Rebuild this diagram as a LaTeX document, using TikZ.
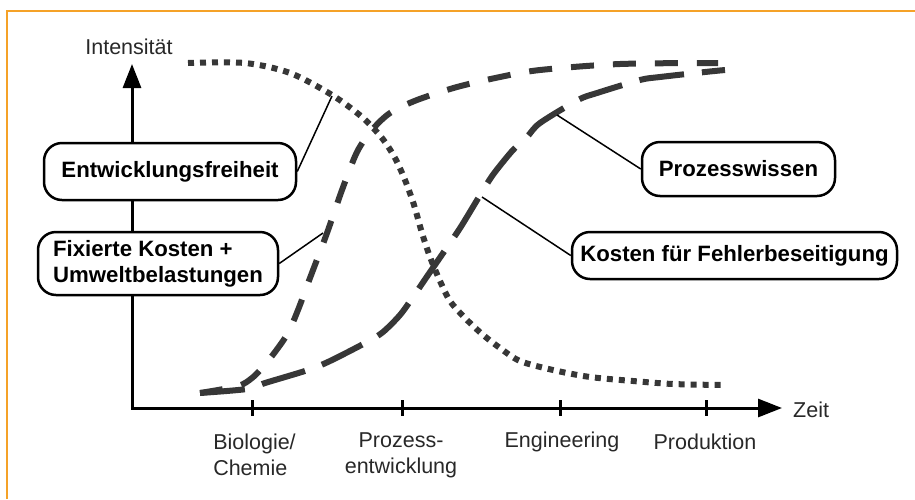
\documentclass[tikz,border=0pt]{standalone}
\usepackage{fontspec}
\setmainfont{Liberation Sans}
\usetikzlibrary{arrows.meta}
\definecolor{frameorange}{RGB}{245,162,40}
\definecolor{curvegray}{RGB}{55,55,55}
\definecolor{labelgray}{RGB}{40,40,40}
\begin{document}
\begin{tikzpicture}[x=1pt,y=-1pt,
  lbl/.style={font=\fontsize{21.5}{26}\selectfont, text=labelgray, inner sep=0pt},
  box/.style={draw=black, line width=2.5pt, fill=white, rounded corners=18pt,
    font=\fontsize{22.2}{26}\selectfont\bfseries, inner sep=0pt, align=center},
  axisline/.style={line width=3pt, black},
  tickmark/.style={line width=3pt, black},
  dotcurve/.style={line width=6pt, curvegray, dash pattern=on 6pt off 6pt},
  shortdash/.style={line width=6pt, curvegray, dash pattern=on 23pt off 19pt},
  longdash/.style={line width=6pt, curvegray, dash pattern=on 45pt off 18pt},
  link/.style={line width=1.5pt, black}]

\useasboundingbox (0,0) rectangle (915,499);
\draw[line width=1.5pt, frameorange] (7,499) -- (7,11) -- (915,11);

% axes
\coordinate (ytop) at (132,64);
\coordinate (origin) at (132,408);
\coordinate (xend) at (782,408);
\draw[axisline, {Triangle[length=24pt,width=18pt]}-{Triangle[length=24pt,width=18pt]}]
  (ytop) -- (origin) -- (xend);
\foreach \tx in {252,402,560,706}{
  \draw[tickmark] (\tx,400) -- (\tx,416);
}

% axis labels
\node[lbl] (yl) at (129,47) {Intensität};
\node[lbl, anchor=west] (xl) at (793,410) {Zeit};
\node[lbl, align=left] (t1) at (254.5,455) {Biologie/\\Chemie};
\node[lbl, align=center] (t2) at (401,455) {Prozess-\\entwicklung};
\node[lbl] (t3) at (562,442) {Engineering};
\node[lbl] (t4) at (705,442) {Produktion};

% curves
\draw[dotcurve] plot[smooth, tension=0.5] coordinates {
  (188,63) (245,63) (290,73) (332,95) (362,117) (382,138) (395,158) (405,180)
  (414,205) (422,233) (430,257) (440,281) (450,301) (465,318) (482,334)
  (500,348) (520,361) (553,370) (590,377) (633,381) (673,384) (722,385)};
\draw[shortdash] plot[smooth, tension=0.5] coordinates {
  (200,393) (238,386) (252,378) (262,368) (275,352) (288,333) (298,310)
  (310,278) (327,233) (342,190) (357,152) (372,130) (390,113) (417,100)
  (457,87) (500,77) (540,70) (620,64) (718,63)};
\draw[longdash] plot[smooth, tension=0.5] coordinates {
  (200,393) (247,389) (265,383) (308,370) (330,361) (367,342) (383,332)
  (400,315) (413,297) (428,275) (450,243) (462,225) (485,187) (495,172)
  (513,150) (527,137) (540,123) (578,100) (597,93) (640,80) (660,77)
  (705,72) (725,70)};

% points on curves
\coordinate (c1) at (332,96);
\coordinate (c2) at (323,233);
\coordinate (c3) at (557,115);
\coordinate (c4) at (482,197);

% boxes
\node[box, minimum width=252pt, minimum height=57pt] (entw) at (170,171.5) {Entwicklungsfreiheit};
\node[box, minimum width=240pt, minimum height=63pt, align=left] (fix) at (158,263.5) {Fixierte Kosten +\\Umweltbelastungen};
\node[box, minimum width=193pt, minimum height=54pt] (proz) at (738.5,169) {Prozesswissen};
\node[box, minimum width=325pt, minimum height=47pt] (kost) at (734.5,255.5) {Kosten für Fehlerbeseitigung};

% connectors
\draw[link] (entw.east) -- (c1);
\draw[link] (fix.east) -- (c2);
\draw[link] (c3) -- (proz.west);
\draw[link] (c4) -- (kost.west);
\end{tikzpicture}
\end{document}
